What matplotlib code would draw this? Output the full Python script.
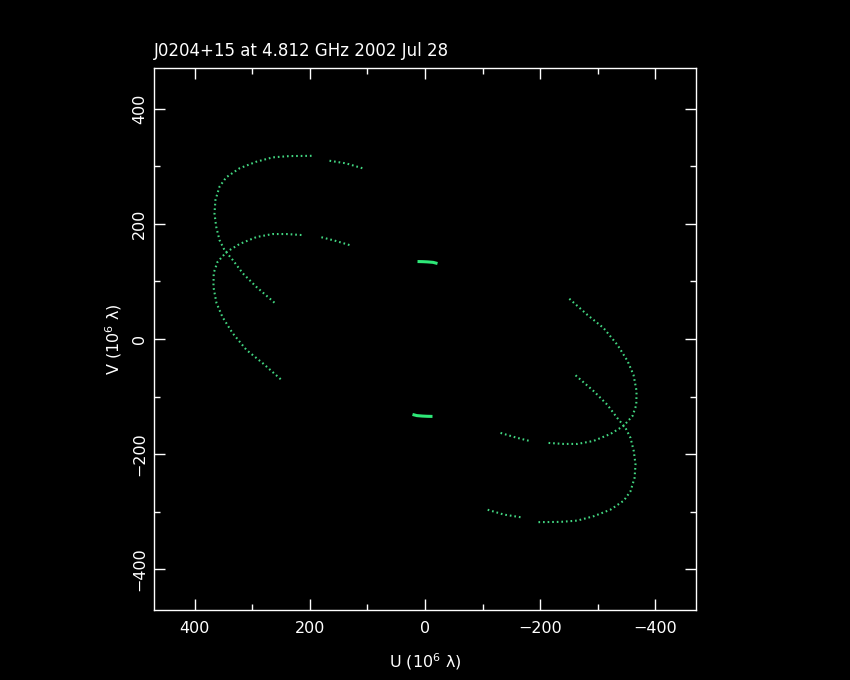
import numpy as np
import matplotlib
matplotlib.use("Agg")
import matplotlib.pyplot as plt
from matplotlib.ticker import MultipleLocator

# uv tracks (10^6 lambda); nan marks a gap in a track
outer_u = [261.5, 293.3, 316.5, 333.9, 348.3, 357.0, 362.7, 365.7, 364.0, 357.0,
           345.4, 322.3, 293.3, 264.4, 235.4, 193.2, np.nan, 165.9, 136.9, 108.1]
outer_v = [63.1, 90.9, 114.1, 137.2, 154.6, 172.0, 195.1, 218.4, 241.5, 264.6,
           280.9, 296.6, 308.0, 315.7, 317.9, 318.4, np.nan, 309.8, 305.2, 296.6]

inner_u = [131.2, 157.0, 183.3, np.nan, 214.6, 240.6, 264.9, 292.7, 322.3, 344.9,
           360.5, 367.0, 367.5, 362.2, 351.8, 334.4, 310.1, 282.3, 249.3]
inner_v = [163.3, 171.0, 177.7, np.nan, 180.7, 182.4, 182.4, 177.2, 165.0, 151.1,
           133.8, 114.7, 90.3, 62.5, 38.2, 10.4, -19.1, -41.7, -71.2]

short_u = [13.0, 4.0, -4.3, -14.0, -21.7]
short_v = [134.6, 134.4, 134.0, 133.2, 131.2]

title = "J0204+15 at 4.812 GHz 2002 Jul 28"
fg = "white"
dot_green = "#42d681"
arc_green = "#2ee878"

fig = plt.figure(figsize=(8.5, 6.8), dpi=100, facecolor="black")
ax = fig.add_axes([0.181, 0.103, 0.638, 0.797], facecolor="black")

# each baseline plus its conjugate point (-u, -v)
for u, v in [(outer_u, outer_v), (inner_u, inner_v)]:
    u = np.array(u)
    v = np.array(v)
    for sign in (1, -1):
        ax.plot(sign * u, sign * v, color=dot_green, linewidth=1.5,
                linestyle=(0, (0.8, 1.4)))
su = np.array(short_u)
sv = np.array(short_v)
for sign in (1, -1):
    ax.plot(sign * su, sign * sv, color=arc_green, linewidth=2.2,
            solid_capstyle="butt")

ax.set_xlim(471, -471)
ax.set_ylim(-471, 471)

ax.xaxis.set_major_locator(MultipleLocator(200))
ax.xaxis.set_minor_locator(MultipleLocator(100))
ax.yaxis.set_major_locator(MultipleLocator(200))
ax.yaxis.set_minor_locator(MultipleLocator(100))
ax.tick_params(which="both", direction="in", top=True, right=True,
               colors=fg, labelsize=11.5, width=1)
ax.tick_params(which="major", length=8)
ax.tick_params(axis="x", which="major", pad=8)
ax.tick_params(axis="y", which="major", pad=5)
ax.tick_params(which="minor", length=4)
for lab in ax.get_yticklabels():
    lab.set_rotation(90)
    lab.set_va("center")
for sp in ax.spines.values():
    sp.set_color(fg)
    sp.set_linewidth(1)

ax.set_xlabel("U (10$^6$ λ)", color=fg, fontsize=11.5, labelpad=11)
ax.set_ylabel("V (10$^6$ λ)", color=fg, fontsize=11.5, labelpad=6)
ax.set_title(title, color=fg, fontsize=12, loc="left", pad=9)

fig.savefig("out.png", dpi=100, facecolor="black")
